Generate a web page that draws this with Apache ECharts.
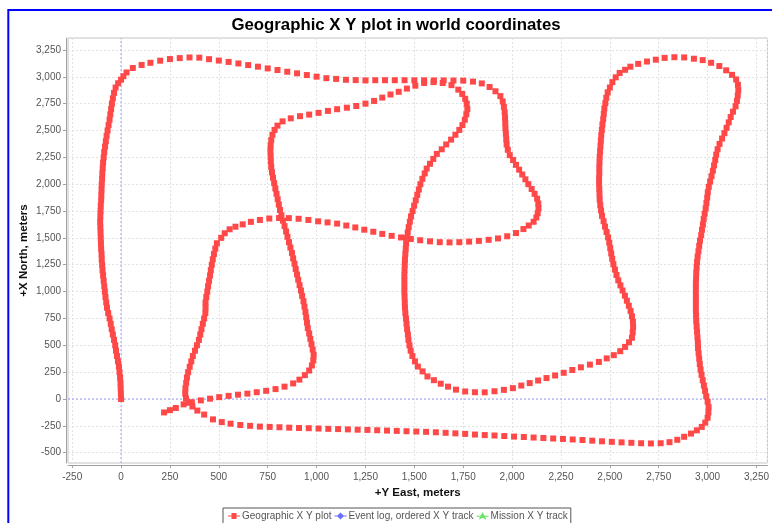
<!DOCTYPE html>
<html>
<head>
<meta charset="utf-8">
<script src="https://cdn.jsdelivr.net/npm/echarts@6/dist/echarts.min.js"></script>
<style>
  html, body { margin: 0; padding: 0; background: #ffffff; }
  #chart { width: 772px; height: 523px; }
</style>
</head>
<body>
<div id="chart"></div>
<script>
// Track samples as [east, north] in metres, one leg per array, in driving order.
const legWest = [
  [0,0],[-1,50],[-2,100],[-3,150],[-5,200],[-8,250],[-11,300],[-16,350],[-21,400],[-26,450],
  [-30,500],[-36,550],[-42,600],[-48,650],[-53,700],[-59,750],[-66,800],[-72,850],[-76,900],[-80,950],
  [-83,1000],[-86,1050],[-89,1100],[-92,1150],[-95,1200],[-97,1250],[-99,1300],[-100,1350],[-102,1400],[-103,1450],
  [-104,1500],[-105,1550],[-106,1600],[-107,1650],[-106,1700],[-105,1750],[-104,1800],[-102,1850],[-101,1900],[-100,1950],
  [-99,2000],[-97,2050],[-96,2100],[-94,2150],[-92,2200],[-89,2250],[-86,2300],[-82,2350],[-78,2400],[-74,2450],
  [-69,2500],[-64,2550],[-59,2600],[-55,2650],[-51,2700],[-47,2750],[-42,2800],[-36,2850],[-28,2900],[-15,2940],[0,2973]
];
const legNorthLoop = [
  [12,3005],[28,3040],[60,3082],[105,3110],[150,3130],[200,3150],[250,3165],[300,3174],[350,3180],[400,3178],
  [450,3164],[500,3151],[550,3138],[600,3124],[650,3109],[700,3094],[750,3078],[800,3063],[850,3047],[900,3032],
  [950,3016],[1000,3001],[1050,2987],[1100,2980],[1150,2972],[1200,2969],[1250,2966],[1300,2968],[1350,2968],[1400,2968],
  [1450,2968],[1500,2967],[1550,2967],[1600,2966],[1650,2966],[1700,2965],[1750,2964],[1800,2955],[1845,2938],[1885,2905],
  [1915,2865],[1940,2820],[1952,2770],[1958,2720],[1962,2670],[1964,2620],[1965,2570],[1966,2520],[1968,2470],[1970,2420],
  [1972,2370],[1978,2320],[1988,2270],[2005,2225],[2020,2180],[2036,2135],[2052,2090],[2068,2045],[2083,2000],[2100,1955],
  [2115,1910],[2128,1865],[2134,1820],[2135,1775],[2131,1730],[2124,1690],[2110,1650],[2085,1615],[2058,1582],[2020,1545]
];
const legCentreWest = [
  [1975,1515],[1928,1495],[1880,1482],[1830,1472],[1780,1465],[1730,1460],[1680,1458],[1630,1460],[1580,1468],[1530,1478],
  [1482,1490],[1432,1504],[1384,1519],[1336,1537],[1290,1557],[1244,1576],[1198,1597],[1152,1615],[1105,1633],[1056,1644],
  [1008,1654],[958,1667],[908,1678],[858,1684],[808,1685],[758,1680],[710,1667],[664,1649],[622,1626],[585,1604],
  [555,1580],[530,1543],[512,1500],[490,1450],[482,1400],[475,1350],[469,1300],[464,1250],[459,1200],[455,1150],
  [450,1100],[445,1050],[441,1000],[436,950],[432,900],[432,850],[431,800],[425,750],[418,700],[411,650],
  [405,600],[398,550],[388,500],[378,450],[367,400],[359,350],[351,300],[343,250],[337,200],[333,150],
  [329,100],[328,50],[332,5],[345,-35]
];
const legSouth = [
  [365,-70],[390,-108],[425,-145],[470,-190],[515,-215],[560,-230],[610,-242],[660,-250],[710,-257],[760,-260],
  [810,-263],[860,-267],[910,-270],[960,-272],[1010,-275],[1060,-278],[1110,-280],[1160,-283],[1210,-286],[1260,-288],
  [1310,-291],[1360,-294],[1410,-297],[1460,-300],[1510,-303],[1560,-306],[1610,-310],[1660,-315],[1710,-320],[1760,-325],
  [1810,-331],[1860,-336],[1910,-340],[1960,-345],[2010,-350],[2060,-354],[2110,-359],[2160,-363],[2210,-368],[2260,-372],
  [2310,-377],[2360,-382],[2410,-388],[2460,-394],[2510,-399],[2560,-404],[2610,-408],[2660,-412],[2710,-414],[2760,-412],
  [2805,-402],[2845,-380],[2880,-352],[2915,-322],[2945,-292],[2970,-260],[2988,-220],[3000,-175],[3004,-125],[3005,-75]
];
const legEastLoop = [
  [3000,-25],[2993,25],[2987,75],[2981,125],[2975,175],[2969,225],[2964,275],[2960,325],[2957,375],[2954,425],
  [2951,475],[2950,525],[2948,575],[2946,625],[2944,675],[2942,725],[2941,775],[2940,825],[2940,875],[2940,925],
  [2940,975],[2940,1025],[2940,1075],[2941,1125],[2942,1175],[2944,1225],[2946,1275],[2949,1325],[2953,1375],[2957,1425],
  [2961,1475],[2967,1525],[2971,1575],[2976,1625],[2980,1675],[2985,1725],[2990,1775],[2994,1825],[2998,1875],[3001,1925],
  [3006,1975],[3013,2025],[3020,2075],[3027,2125],[3033,2175],[3039,2225],[3044,2275],[3051,2325],[3061,2375],[3074,2425],
  [3086,2475],[3097,2525],[3108,2575],[3118,2625],[3130,2675],[3143,2725],[3150,2775],[3154,2825],[3157,2875],[3155,2925],
  [3146,2975],[3125,3018],[3095,3060],[3060,3100],[3018,3130],[2975,3155],[2930,3168],[2880,3180],[2830,3182],[2780,3176],
  [2735,3159],[2690,3142],[2645,3120],[2605,3094],[2578,3065],[2550,3035],[2530,2995],[2513,2950],[2500,2900],[2489,2855],
  [2482,2805],[2477,2755],[2472,2705],[2469,2655],[2466,2605],[2462,2555],[2459,2505],[2456,2455],[2454,2405],[2452,2355],
  [2450,2305],[2448,2255],[2447,2205],[2446,2155],[2446,2105],[2445,2055],[2445,2005],[2446,1955],[2447,1905],[2448,1855],
  [2451,1805],[2455,1755],[2460,1705],[2468,1655],[2475,1605],[2483,1555],[2491,1505],[2497,1455],[2502,1405],[2507,1355],
  [2512,1305],[2518,1255],[2526,1205],[2534,1155],[2543,1105],[2554,1058],[2565,1010],[2577,962],[2587,915],[2597,868],
  [2606,820],[2613,770],[2618,720],[2619,670],[2617,620],[2613,570],[2598,528],[2578,485],[2553,445],[2520,408],
  [2484,378],[2444,345],[2398,320],[2352,295],[2308,270],[2264,244],[2220,219],[2176,195],[2133,172],[2090,148],
  [2047,125],[2004,101]
];
const legCentreLoop = [
  [1958,85],[1910,72],[1860,62],[1810,63],[1760,70],[1713,87],[1672,115],[1635,142],[1600,175],[1567,210],
  [1542,257],[1518,302],[1503,350],[1490,400],[1481,450],[1475,500],[1470,550],[1467,600],[1463,650],[1460,700],
  [1457,750],[1454,800],[1452,850],[1451,900],[1450,950],[1449,1000],[1449,1050],[1449,1100],[1449,1150],[1450,1200],
  [1451,1250],[1452,1300],[1454,1350],[1456,1400],[1458,1450],[1461,1500],[1466,1550],[1471,1600],[1477,1650],[1483,1700],
  [1491,1750],[1499,1800],[1507,1850],[1515,1900],[1523,1950],[1531,2000],[1541,2050],[1553,2100],[1563,2145],[1580,2190],
  [1597,2235],[1615,2282],[1640,2325],[1663,2370],[1688,2415],[1710,2460],[1730,2505],[1746,2550],[1758,2600],[1766,2650],
  [1771,2700],[1768,2750],[1760,2795],[1745,2840],[1725,2880],[1690,2922]
];
const legHomeward = [
  [1645,2942],[1598,2950],[1550,2942],[1505,2917],[1462,2890],[1420,2860],[1378,2835],[1336,2806],[1294,2775],[1250,2750],
  [1203,2728],[1155,2712],[1105,2698],[1058,2682],[1010,2664],[962,2648],[915,2633],[868,2613],[826,2585],[800,2545],
  [785,2505],[774,2460],[768,2410],[765,2360],[764,2310],[765,2260],[766,2210],[768,2160],[772,2110],[777,2060],
  [783,2010],[789,1960],[795,1910],[801,1860],[807,1810],[813,1760],[820,1710],[828,1660],[836,1610],[844,1560],
  [851,1510],[859,1460],[866,1410],[874,1360],[880,1310],[887,1260],[893,1210],[900,1160],[906,1110],[913,1060],
  [920,1010],[926,960],[933,910],[938,860],[943,810],[947,760],[951,710],[955,660],[962,610],[968,560],
  [974,510],[980,460],[985,410],[983,360],[976,312],[962,265],[940,222],[912,180],[880,145],[836,115],
  [790,92],[742,76],[694,63],[646,50],[598,40],[550,29],[502,17],[455,3],[408,-13],[362,-30],
  [320,-50],[280,-84],[250,-104],[220,-125]
];

const seriesNames = ['Geographic X Y plot', 'Event log, ordered X Y track', 'Mission X Y track'];
const eastRange = [-271.5, 3306];
const northRange = [-596, 3361];
const tickStep = 250;

const geoTrack = [].concat(legWest, legNorthLoop, legCentreWest, legSouth,
                           legEastLoop, legCentreLoop, legHomeward);

// Crosshair through the world origin, spanning the full axis ranges.
const originNorthSouth = [[0, northRange[0]], [0, northRange[1]]];
const originEastWest = [[eastRange[0], 0], [eastRange[1], 0]];

const withCommas = v => String(v).replace(/\B(?=(\d{3})+(?!\d))/g, ',');

const labelFont = '"Liberation Sans", Arial, sans-serif';
const axisColor = '#a0a0a0';

function valueAxis(name, range, gap, labelMargin) {
  return {
    type: 'value',
    min: range[0],
    max: range[1],
    minInterval: tickStep,
    maxInterval: tickStep,
    splitNumber: 16,
    offset: 2,
    name: name,
    nameLocation: 'middle',
    nameGap: gap,
    nameMoveOverlap: false,
    nameTextStyle: { fontFamily: labelFont, fontWeight: 'bold', fontSize: 11.5, color: '#111' },
    axisLine: { show: true, onZero: false, lineStyle: { color: axisColor, width: 1 } },
    axisTick: { show: true, length: 3, lineStyle: { color: axisColor } },
    splitLine: { show: true, lineStyle: { color: '#e2e2e2', type: [2, 2], width: 1 } },
    axisLabel: {
      fontFamily: labelFont, fontSize: 10, color: '#555', margin: labelMargin,
      showMinLabel: false, showMaxLabel: false,
      formatter: withCommas
    }
  };
}

function originLine(data) {
  return {
    type: 'line',
    data: data,
    z: 2,
    silent: true,
    showSymbol: false,
    symbol: 'none',
    lineStyle: { color: '#9c9cff', type: [2, 2], width: 1 },
    tooltip: { show: false }
  };
}

const chart = echarts.init(document.getElementById('chart'), null, { renderer: 'canvas' });

chart.setOption({
  animation: false,
  backgroundColor: '#ffffff',
  title: {
    text: 'Geographic X Y plot in world coordinates',
    left: 391,
    top: 12,
    textAlign: 'center',
    textStyle: { fontFamily: labelFont, fontWeight: 'bold', fontSize: 16.8, color: '#000' }
  },
  graphic: [{
    type: 'rect',
    shape: { x: 8.3, y: 10, width: 900, height: 700 },
    style: { fill: null, stroke: '#0000ff', lineWidth: 2 },
    silent: true,
    z: 100
  }],
  grid: {
    left: 68, right: 0, top: 38, bottom: 60,
    show: true, borderColor: '#c4c4c4', borderWidth: 1, backgroundColor: '#ffffff'
  },
  xAxis: valueAxis('+Y East, meters', eastRange, 22, 7),
  yAxis: valueAxis('+X North, meters', northRange, 36, 5),
  legend: {
    left: 223,
    top: 508,
    padding: [3, 3, 3, 5],
    itemGap: 3,
    itemWidth: 12,
    itemHeight: 8,
    borderColor: '#555',
    borderWidth: 1,
    textStyle: { fontFamily: labelFont, fontSize: 10, color: '#555', padding: [0, 0, 0, -3] },
    data: [
      { name: seriesNames[0], icon: 'path://M0,3.5H3.5V1H8.5V3.5H12V4.5H8.5V7H3.5V4.5H0Z' },
      { name: seriesNames[1], icon: 'path://M0,3.5H3L6,0.5L9,3.5H12V4.5H9L6,7.5L3,4.5H0Z' },
      { name: seriesNames[2], icon: 'path://M0,3.5H4L6,0L8,3.5H12V4.5H8.7L9.5,7.5L6,5.6L2.5,7.5L3.3,4.5H0Z' }
    ]
  },
  series: [
    originLine(originNorthSouth),
    originLine(originEastWest),
    {
      name: seriesNames[0],
      type: 'scatter',
      data: geoTrack,
      symbol: 'rect',
      symbolSize: 6,
      z: 3,
      itemStyle: { color: '#ff4848', opacity: 1 }
    },
    {
      name: seriesNames[1],
      type: 'scatter',
      data: [],
      symbol: 'diamond',
      itemStyle: { color: '#4848ff' }
    },
    {
      name: seriesNames[2],
      type: 'scatter',
      data: [],
      symbol: 'triangle',
      itemStyle: { color: '#44dd44' }
    }
  ]
});
</script>
</body>
</html>
